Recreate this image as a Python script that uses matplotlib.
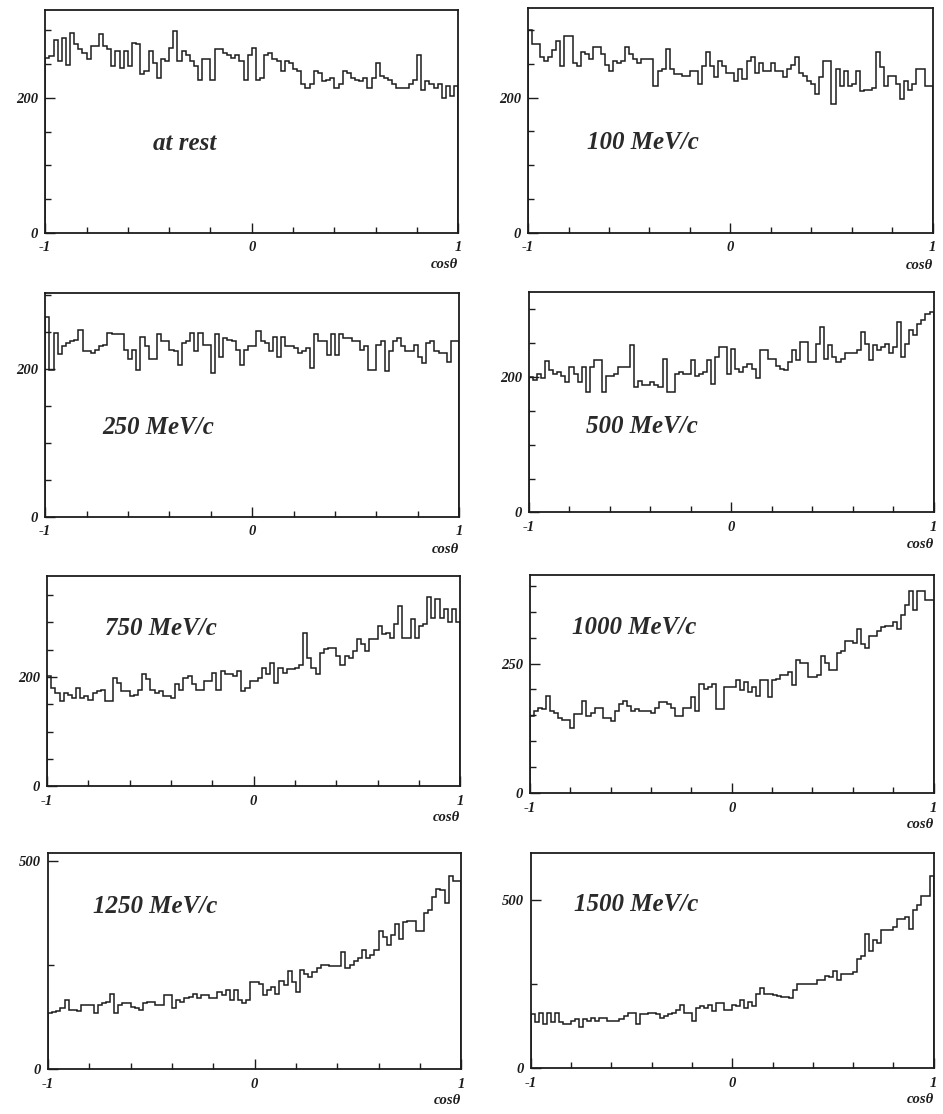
"""Angular distributions in cos(theta) for eight beam momenta, 100 bins each."""

import numpy as np
import matplotlib
matplotlib.use("Agg")
import matplotlib.pyplot as plt
from matplotlib.font_manager import FontProperties
from matplotlib.ticker import FixedLocator, MultipleLocator

# bin edges in cos(theta): 100 bins of width 0.02
cos_edges = np.linspace(-1.0, 1.0, 101)

# counts per bin, read left (cos = -1) to right (cos = +1)
at_rest = [
    259, 262, 286, 254, 289, 249, 296, 279, 272, 267,
    257, 277, 277, 294, 277, 272, 247, 269, 244, 269,
    247, 281, 279, 235, 239, 269, 252, 230, 257, 254,
    274, 299, 254, 269, 264, 254, 247, 227, 257, 257,
    227, 272, 272, 267, 264, 259, 264, 254, 227, 264,
    274, 227, 230, 264, 267, 257, 254, 239, 254, 252,
    242, 239, 220, 215, 220, 239, 237, 225, 227, 230,
    215, 220, 239, 237, 230, 227, 225, 230, 215, 230,
    252, 232, 230, 227, 220, 215, 215, 215, 220, 227,
    264, 212, 225, 220, 215, 220, 200, 217, 203, 217,
]
p100 = [
    300, 280, 280, 260, 255, 260, 270, 284, 247, 292,
    292, 252, 247, 267, 264, 257, 275, 275, 264, 249,
    240, 255, 252, 255, 275, 264, 257, 252, 257, 257,
    257, 217, 240, 242, 272, 242, 235, 235, 232, 232,
    240, 240, 220, 247, 267, 247, 230, 255, 247, 237,
    237, 225, 242, 227, 255, 260, 237, 252, 240, 240,
    252, 240, 240, 230, 242, 249, 260, 237, 232, 225,
    220, 205, 230, 255, 255, 190, 242, 217, 240, 217,
    220, 240, 210, 212, 212, 215, 267, 245, 217, 232,
    232, 220, 198, 225, 212, 220, 242, 242, 217, 217,
]
p250 = [
    271, 199, 249, 220, 231, 235, 238, 240, 253, 224,
    224, 222, 226, 231, 233, 249, 247, 247, 247, 226,
    213, 226, 199, 244, 231, 213, 213, 247, 238, 238,
    226, 224, 206, 235, 238, 249, 224, 249, 233, 233,
    195, 247, 217, 242, 240, 238, 226, 206, 226, 231,
    231, 251, 238, 235, 224, 244, 217, 244, 231, 231,
    229, 222, 224, 229, 201, 247, 238, 238, 219, 247,
    219, 247, 242, 242, 238, 238, 226, 231, 199, 199,
    233, 238, 197, 224, 238, 242, 231, 224, 224, 233,
    217, 208, 235, 238, 224, 222, 222, 210, 238, 238,
]
p500 = [
    200, 196, 205, 198, 224, 210, 205, 207, 202, 193,
    215, 205, 193, 215, 178, 215, 225, 225, 178, 202,
    202, 205, 215, 215, 215, 247, 185, 195, 188, 188,
    193, 188, 185, 227, 178, 178, 205, 207, 205, 205,
    225, 202, 205, 207, 225, 190, 230, 244, 244, 205,
    242, 212, 207, 215, 220, 212, 198, 240, 240, 227,
    227, 217, 212, 210, 222, 240, 225, 252, 252, 222,
    222, 249, 274, 227, 247, 230, 222, 227, 235, 235,
    235, 240, 267, 249, 225, 247, 240, 244, 249, 235,
    245, 281, 230, 249, 269, 262, 279, 285, 294, 296,
]
p750 = [
    202, 180, 171, 156, 171, 168, 162, 180, 162, 165,
    159, 171, 174, 177, 156, 156, 199, 190, 174, 174,
    165, 168, 177, 205, 196, 177, 171, 174, 165, 165,
    162, 187, 177, 199, 202, 187, 177, 177, 193, 193,
    208, 177, 211, 205, 205, 202, 211, 174, 180, 193,
    193, 199, 217, 205, 226, 190, 217, 208, 214, 214,
    217, 223, 281, 235, 217, 205, 245, 251, 254, 254,
    239, 223, 239, 235, 248, 269, 260, 248, 269, 269,
    294, 278, 281, 272, 297, 330, 272, 272, 306, 272,
    294, 297, 346, 309, 343, 309, 324, 300, 324, 300,
]
p1000 = [
    148, 158, 165, 162, 188, 158, 155, 145, 142, 142,
    125, 152, 152, 178, 148, 155, 165, 165, 145, 145,
    139, 158, 172, 178, 168, 158, 162, 158, 158, 158,
    155, 165, 175, 175, 172, 165, 148, 148, 165, 165,
    185, 158, 211, 201, 205, 211, 162, 162, 205, 205,
    205, 218, 198, 214, 195, 205, 188, 218, 218, 185,
    218, 221, 228, 228, 234, 208, 257, 251, 251, 224,
    224, 228, 264, 251, 237, 237, 270, 274, 294, 294,
    290, 317, 287, 280, 303, 303, 313, 320, 323, 323,
    330, 317, 343, 363, 389, 353, 389, 389, 373, 373,
]
p1250 = [
    136, 137, 140, 147, 167, 143, 143, 140, 155, 155,
    155, 136, 155, 159, 163, 182, 136, 155, 159, 159,
    151, 147, 143, 159, 163, 163, 155, 155, 178, 178,
    147, 167, 163, 171, 174, 182, 171, 178, 178, 171,
    171, 186, 178, 190, 167, 190, 167, 159, 167, 209,
    209, 205, 178, 190, 198, 182, 213, 202, 236, 209,
    186, 240, 229, 221, 233, 244, 252, 252, 248, 248,
    248, 283, 244, 252, 260, 267, 287, 267, 275, 287,
    333, 318, 298, 322, 349, 314, 353, 357, 357, 333,
    333, 376, 384, 415, 434, 430, 399, 465, 453, 453,
]
p1500 = [
    160, 136, 165, 131, 165, 136, 165, 136, 131, 131,
    141, 146, 122, 146, 141, 150, 141, 150, 150, 141,
    141, 141, 146, 155, 165, 165, 131, 160, 160, 165,
    165, 160, 150, 155, 160, 165, 174, 189, 165, 165,
    141, 179, 184, 179, 189, 170, 193, 193, 174, 174,
    189, 184, 203, 179, 198, 184, 222, 237, 222, 222,
    217, 215, 213, 213, 208, 232, 251, 251, 251, 251,
    251, 261, 261, 275, 270, 289, 261, 280, 280, 280,
    285, 323, 332, 400, 347, 380, 371, 409, 409, 409,
    418, 443, 443, 448, 414, 471, 486, 510, 510, 572,
]

labels = ["at rest", "100 MeV/c", "250 MeV/c", "500 MeV/c",
          "750 MeV/c", "1000 MeV/c", "1250 MeV/c", "1500 MeV/c"]
series = [at_rest, p100, p250, p500, p750, p1000, p1250, p1500]
y_max = [330, 333, 303, 326, 385, 421, 519, 638]
y_labelled = [200, 200, 200, 200, 200, 250, 500, 500]
y_step = [50, 50, 50, 50, 50, 50, 250, 250]

# axes rectangles (figure fraction) and label anchor (axes fraction)
rects = [
    [0.048, 0.791, 0.438, 0.200], [0.560, 0.791, 0.429, 0.202],
    [0.048, 0.536, 0.439, 0.201], [0.561, 0.540, 0.429, 0.198],
    [0.050, 0.294, 0.438, 0.189], [0.562, 0.288, 0.428, 0.196],
    [0.051, 0.040, 0.438, 0.194], [0.563, 0.041, 0.427, 0.193],
]
label_pos = [(0.26, 0.40), (0.145, 0.40), (0.138, 0.40), (0.14, 0.39),
             (0.14, 0.75), (0.105, 0.757), (0.108, 0.753), (0.107, 0.76)]

INK = "#1c1c1c"
tick_font = FontProperties(family="Liberation Serif", weight="bold",
                           style="italic", size=10.5)
title_font = FontProperties(family="Liberation Serif", weight="bold",
                            style="italic", size=18)


def draw_panel(fig, rect, counts, label, anchor, ymax, ylab, ystep):
    ax = fig.add_axes(rect)
    ax.stairs(counts, cos_edges, color=INK, linewidth=1.1)
    ax.set_xlim(-1, 1)
    ax.set_ylim(0, ymax)

    for side in ("top", "right", "bottom", "left"):
        ax.spines[side].set_color(INK)
        ax.spines[side].set_linewidth(1.3)

    ax.xaxis.set_major_locator(FixedLocator([-1, 0, 1]))
    ax.xaxis.set_minor_locator(MultipleLocator(0.2))
    ax.set_xticklabels(["-1", "0", "1"], fontproperties=tick_font, color=INK)
    ax.yaxis.set_major_locator(FixedLocator([0, ylab]))
    ax.yaxis.set_minor_locator(MultipleLocator(ystep))
    ax.set_yticklabels(["0", str(ylab)], fontproperties=tick_font, color=INK)

    ax.tick_params(which="both", direction="in", color=INK, width=1.0,
                   top=False, right=False)
    ax.tick_params(axis="x", which="major", length=7, pad=6)
    ax.tick_params(axis="y", which="major", length=7, pad=5)
    ax.tick_params(which="minor", length=4)

    ax.text(1.0, -0.115, "cosθ", transform=ax.transAxes, ha="right", va="top",
            fontproperties=tick_font, color=INK)
    ax.text(anchor[0], anchor[1], label, transform=ax.transAxes,
            ha="left", va="center", fontproperties=title_font, color="#2a2a2a")
    return ax


def main():
    fig = plt.figure(figsize=(9.43, 11.14), dpi=100, facecolor="white")
    for i in range(len(series)):
        draw_panel(fig, rects[i], series[i], labels[i], label_pos[i],
                   y_max[i], y_labelled[i], y_step[i])
    fig.savefig("out.png", dpi=100, facecolor="white")


if __name__ == "__main__":
    main()
